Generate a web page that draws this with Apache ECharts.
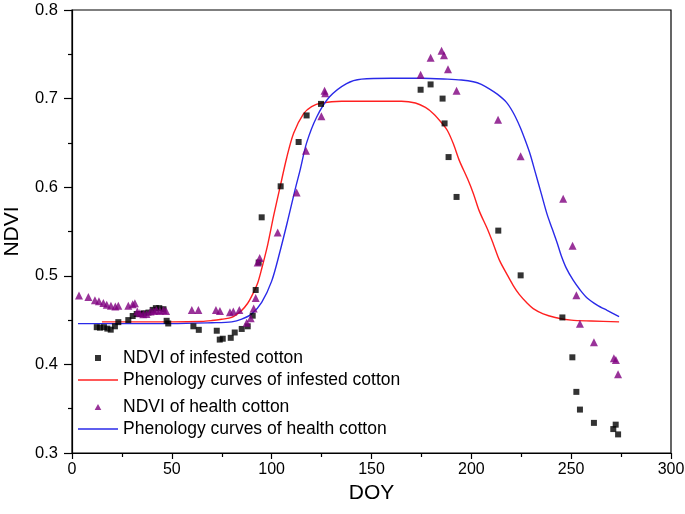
<!DOCTYPE html>
<html><head><meta charset="utf-8">
<script src="https://cdn.jsdelivr.net/npm/echarts@6/dist/echarts.min.js"></script>
<style>html,body{margin:0;padding:0;background:#fff}#c{width:685px;height:514px}</style>
</head><body><div id="c"></div>
<script>
// NDVI of infested cotton: [DOY, NDVI]
const infestedPts = [
 [12.4,0.442],[14,0.4415],[16,0.442],[17.7,0.4404],[19.4,0.4392],[21.5,0.443],[23.2,0.4477],[28.2,0.45],
 [30.4,0.4546],[32.4,0.4569],[34.4,0.4569],[36,0.4577],[38.3,0.4585],[40.4,0.4615],[42,0.4635],[43.7,0.4635],
 [45.8,0.4623],[47.4,0.4492],[48.2,0.4462],
 [60.8,0.443],[63.5,0.439],[72.5,0.438],[74,0.428],[75.5,0.429],[79.5,0.43],[81.5,0.436],[85,0.44],[88,0.443],
 [90.5,0.455],[92,0.484],[93.5,0.515],[95,0.566],[104.5,0.601],[113.5,0.651],[117.5,0.681],[124.7,0.694],
 [174.6,0.71],[179.6,0.716],[185.6,0.70],[186.6,0.672],[188.6,0.634],[192.6,0.589],[213.5,0.551],
 [224.7,0.5005],[245.6,0.453],[250.6,0.408],[252.6,0.369],[254.4,0.349],[261.4,0.334],[272.3,0.332],
 [271.1,0.327],[273.5,0.321]
];
// NDVI of health cotton
const healthPts = [
 [3.5,0.4777],[8.2,0.4762],[11.5,0.4723],[13.5,0.4712],[15.7,0.4692],[17.4,0.4673],[19.5,0.4662],[21.7,0.4654],
 [23.2,0.4662],[28.2,0.4662],[30.4,0.468],[31.5,0.469],[32.7,0.4596],[34,0.4577],[35.7,0.4565],[37.3,0.4569],
 [39.3,0.4596],[41,0.4604],[42.3,0.4615],[44,0.4604],[45.8,0.4615],[47.1,0.4604],
 [60,0.4615],[63.3,0.4615],[72.1,0.4615],[74.1,0.4604],[79.1,0.4588],[80.8,0.4596],[83.8,0.4615],
 [87.5,0.4469],[89.5,0.452],[91,0.463],[92,0.475],[93,0.515],[94,0.52],
 [103,0.549],[112.5,0.594],[117.2,0.641],[124.9,0.68],[126.5,0.709],[126.8,0.706],
 [174.6,0.727],[179.6,0.746],[185.1,0.754],[186.3,0.749],[188.3,0.733],[192.6,0.709],[213.4,0.676],
 [224.7,0.635],[246,0.587],[250.7,0.534],[252.6,0.478],[254.4,0.446],[261.4,0.425],[271.4,0.407],
 [272.4,0.405],[273.5,0.389]
];
// Phenology curve of infested cotton
const infestedCurve = [
 [15,0.448],[30,0.448],[50,0.448],[65,0.4485],[70,0.4495],[75,0.451],[80,0.453],[85,0.461],[88,0.469],
 [90,0.477],[93,0.492],[95,0.508],[98,0.535],[101,0.568],[104.2,0.600],[107.5,0.633],[111,0.661],[116,0.683],
 [120,0.691],[125,0.695],[135,0.697],[150,0.697],[165,0.697],[172,0.695],[177,0.69],[181,0.683],[185,0.673],
 [188,0.664],[191,0.649],[194,0.63],[198,0.61],[201,0.593],[204,0.573],[208,0.553],[211,0.536],[214,0.518],
 [218,0.501],[221,0.489],[224,0.479],[228,0.469],[231,0.463],[236,0.457],[242,0.453],[250,0.45],[260,0.449],[274,0.448]
];
// Phenology curve of health cotton
const healthCurve = [
 [3,0.446],[20,0.446],[50,0.446],[70,0.447],[80,0.448],[85,0.451],[90,0.457],[95,0.47],[100,0.494],
 [104,0.526],[108,0.562],[111.7,0.597],[114.2,0.619],[117.5,0.65],[122.5,0.679],[129,0.702],[137.5,0.717],
 [145,0.722],[160,0.723],[175,0.723],[188,0.722],[195,0.721],[201,0.719],[205,0.716],[209,0.711],[213,0.705],
 [217.5,0.696],[221,0.684],[224.4,0.668],[227,0.653],[229.5,0.637],[232,0.617],[235,0.593],[238,0.569],
 [240.5,0.553],[243,0.537],[245,0.523],[247.5,0.509],[251,0.495],[254.5,0.484],[258,0.475],[263,0.467],
 [268,0.461],[274,0.454]
];
const seriesNames = ['NDVI of infested cotton','Phenology curves of infested cotton','NDVI of health cotton','Phenology curves of health cotton'];

const chart = echarts.init(document.getElementById('c'), null, {renderer:'canvas'});
const font = 'Arial, "Liberation Sans", sans-serif';
const squareIcon = 'path://M0,0L1,0L1,1L0,1Z';
const triIcon = 'path://M0.5,0L1,0.9L0,0.9Z';
const lineIcon = 'path://M0,0L40,0L40,1.3L0,1.3Z';
const legendBase = {
  left:73, orient:'vertical', itemWidth:40, itemHeight:6, itemGap:4, symbolKeepAspect:true,
  textStyle:{fontFamily:font,fontSize:17.5,color:'#000',lineHeight:18}
};
chart.setOption({
  animation:false,
  backgroundColor:'#fff',
  grid:{left:72,right:14,top:10,bottom:61,containLabel:false,outerBoundsMode:'none',show:true,borderColor:'#000',borderWidth:1.2,backgroundColor:'transparent'},
  legend:[
    Object.assign({}, legendBase, {top:344, data:[
      {name:seriesNames[0],icon:squareIcon},
      {name:seriesNames[1],icon:lineIcon}
    ]}),
    Object.assign({}, legendBase, {top:393, data:[
      {name:seriesNames[2],icon:triIcon},
      {name:seriesNames[3],icon:lineIcon}
    ]})
  ],
  xAxis:{
    type:'value',min:0,max:300,interval:50,
    name:'DOY',nameLocation:'middle',nameGap:27,
    nameTextStyle:{fontFamily:font,fontSize:21,color:'#000'},
    axisLine:{show:true,onZero:false,lineStyle:{color:'#000',width:1.2}},
    axisTick:{show:true,inside:false,length:6,lineStyle:{color:'#000',width:1.2}},
    minorTick:{show:true,splitNumber:2,length:4,lineStyle:{color:'#000',width:1.2}},
    axisLabel:{fontFamily:font,fontSize:16,color:'#000',margin:9},
    splitLine:{show:false}
  },
  yAxis:{
    type:'value',min:0.3,max:0.8,interval:0.1,
    name:'NDVI',nameLocation:'middle',nameGap:49,
    nameTextStyle:{fontFamily:font,fontSize:21,color:'#000'},
    axisLine:{show:true,onZero:false,lineStyle:{color:'#000',width:1.2}},
    axisTick:{show:true,inside:false,length:8,lineStyle:{color:'#000',width:1.2}},
    minorTick:{show:true,splitNumber:2,length:4,lineStyle:{color:'#000',width:1.2}},
    axisLabel:{fontFamily:font,fontSize:16.5,color:'#000',margin:14,formatter:v=>v.toFixed(1)},
    splitLine:{show:false}
  },
  series:[
    {name:seriesNames[0],type:'scatter',symbol:'rect',symbolSize:6,data:infestedPts,itemStyle:{color:'#000'},z:3},
    {name:seriesNames[1],type:'line',data:infestedCurve,smooth:0.3,showSymbol:false,symbol:'none',lineStyle:{color:'#ff2020',width:1.4},itemStyle:{color:'#ff2020'},z:2},
    {name:seriesNames[2],type:'scatter',symbol:'triangle',symbolSize:8,data:healthPts,itemStyle:{color:'#800080'},z:3},
    {name:seriesNames[3],type:'line',data:healthCurve,smooth:0.3,showSymbol:false,symbol:'none',lineStyle:{color:'#2a2ae8',width:1.4},itemStyle:{color:'#2a2ae8'},z:2}
  ]
});
</script></body></html>
